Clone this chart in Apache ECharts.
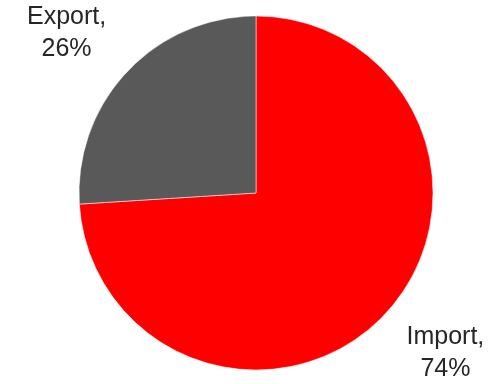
<!DOCTYPE html>
<html>
<head>
<meta charset="utf-8">
<style>
  html, body { margin: 0; padding: 0; background: #fff; }
  #chart { width: 492px; height: 384px; }
</style>
<script src="https://cdn.jsdelivr.net/npm/echarts@6/dist/echarts.min.js"></script>
</head>
<body>
<div id="chart"></div>
<script>
// Trade split, share of total (%)
const categories = ['Import', 'Export'];
const shares = [74, 26];
const sliceColors = ['#FF0000', '#595959'];

// Pie geometry (pixels)
const CX = 256, CY = 193, R = 177;
const LABEL_DIST = 248;      // distance of label centres from pie centre
const LABEL_SHIFT = -3;      // small rotation of label anchors (degrees)

const total = shares.reduce((a, b) => a + b, 0);
// mid-angle of each slice, clockwise from 12 o'clock
const midAngles = [];
let acc = 0;
shares.forEach(v => {
  midAngles.push((acc + v / 2) / total * 360);
  acc += v;
});

const chart = echarts.init(document.getElementById('chart'), null, { renderer: 'canvas' });
chart.setOption({
  animation: false,
  backgroundColor: '#fff',
  series: [{
    type: 'pie',
    center: [CX, CY],
    radius: [0, R],
    startAngle: 90,
    clockwise: true,
    avoidLabelOverlap: false,
    data: categories.map((c, i) => ({
      name: c,
      value: shares[i],
      itemStyle: { color: sliceColors[i] }
    })),
    itemStyle: { borderColor: '#ffffff', borderWidth: 0.5 },
    label: {
      show: true,
      position: 'outside',
      alignTo: 'none',
      overflow: 'none',
      formatter: p => p.name + ',\n' + p.value + '%',
      fontFamily: '"Liberation Sans", Arial, sans-serif',
      fontSize: 25,
      lineHeight: 32,
      color: '#262626',
      align: 'center'
    },
    labelLine: { show: false },
    labelLayout: function (p) {
      const a = (midAngles[p.dataIndex] + LABEL_SHIFT) * Math.PI / 180;
      return {
        x: CX + LABEL_DIST * Math.sin(a),
        y: CY - LABEL_DIST * Math.cos(a),
        align: 'center',
        verticalAlign: 'middle'
      };
    },
    emphasis: { disabled: true }
  }]
});
</script>
</body>
</html>
